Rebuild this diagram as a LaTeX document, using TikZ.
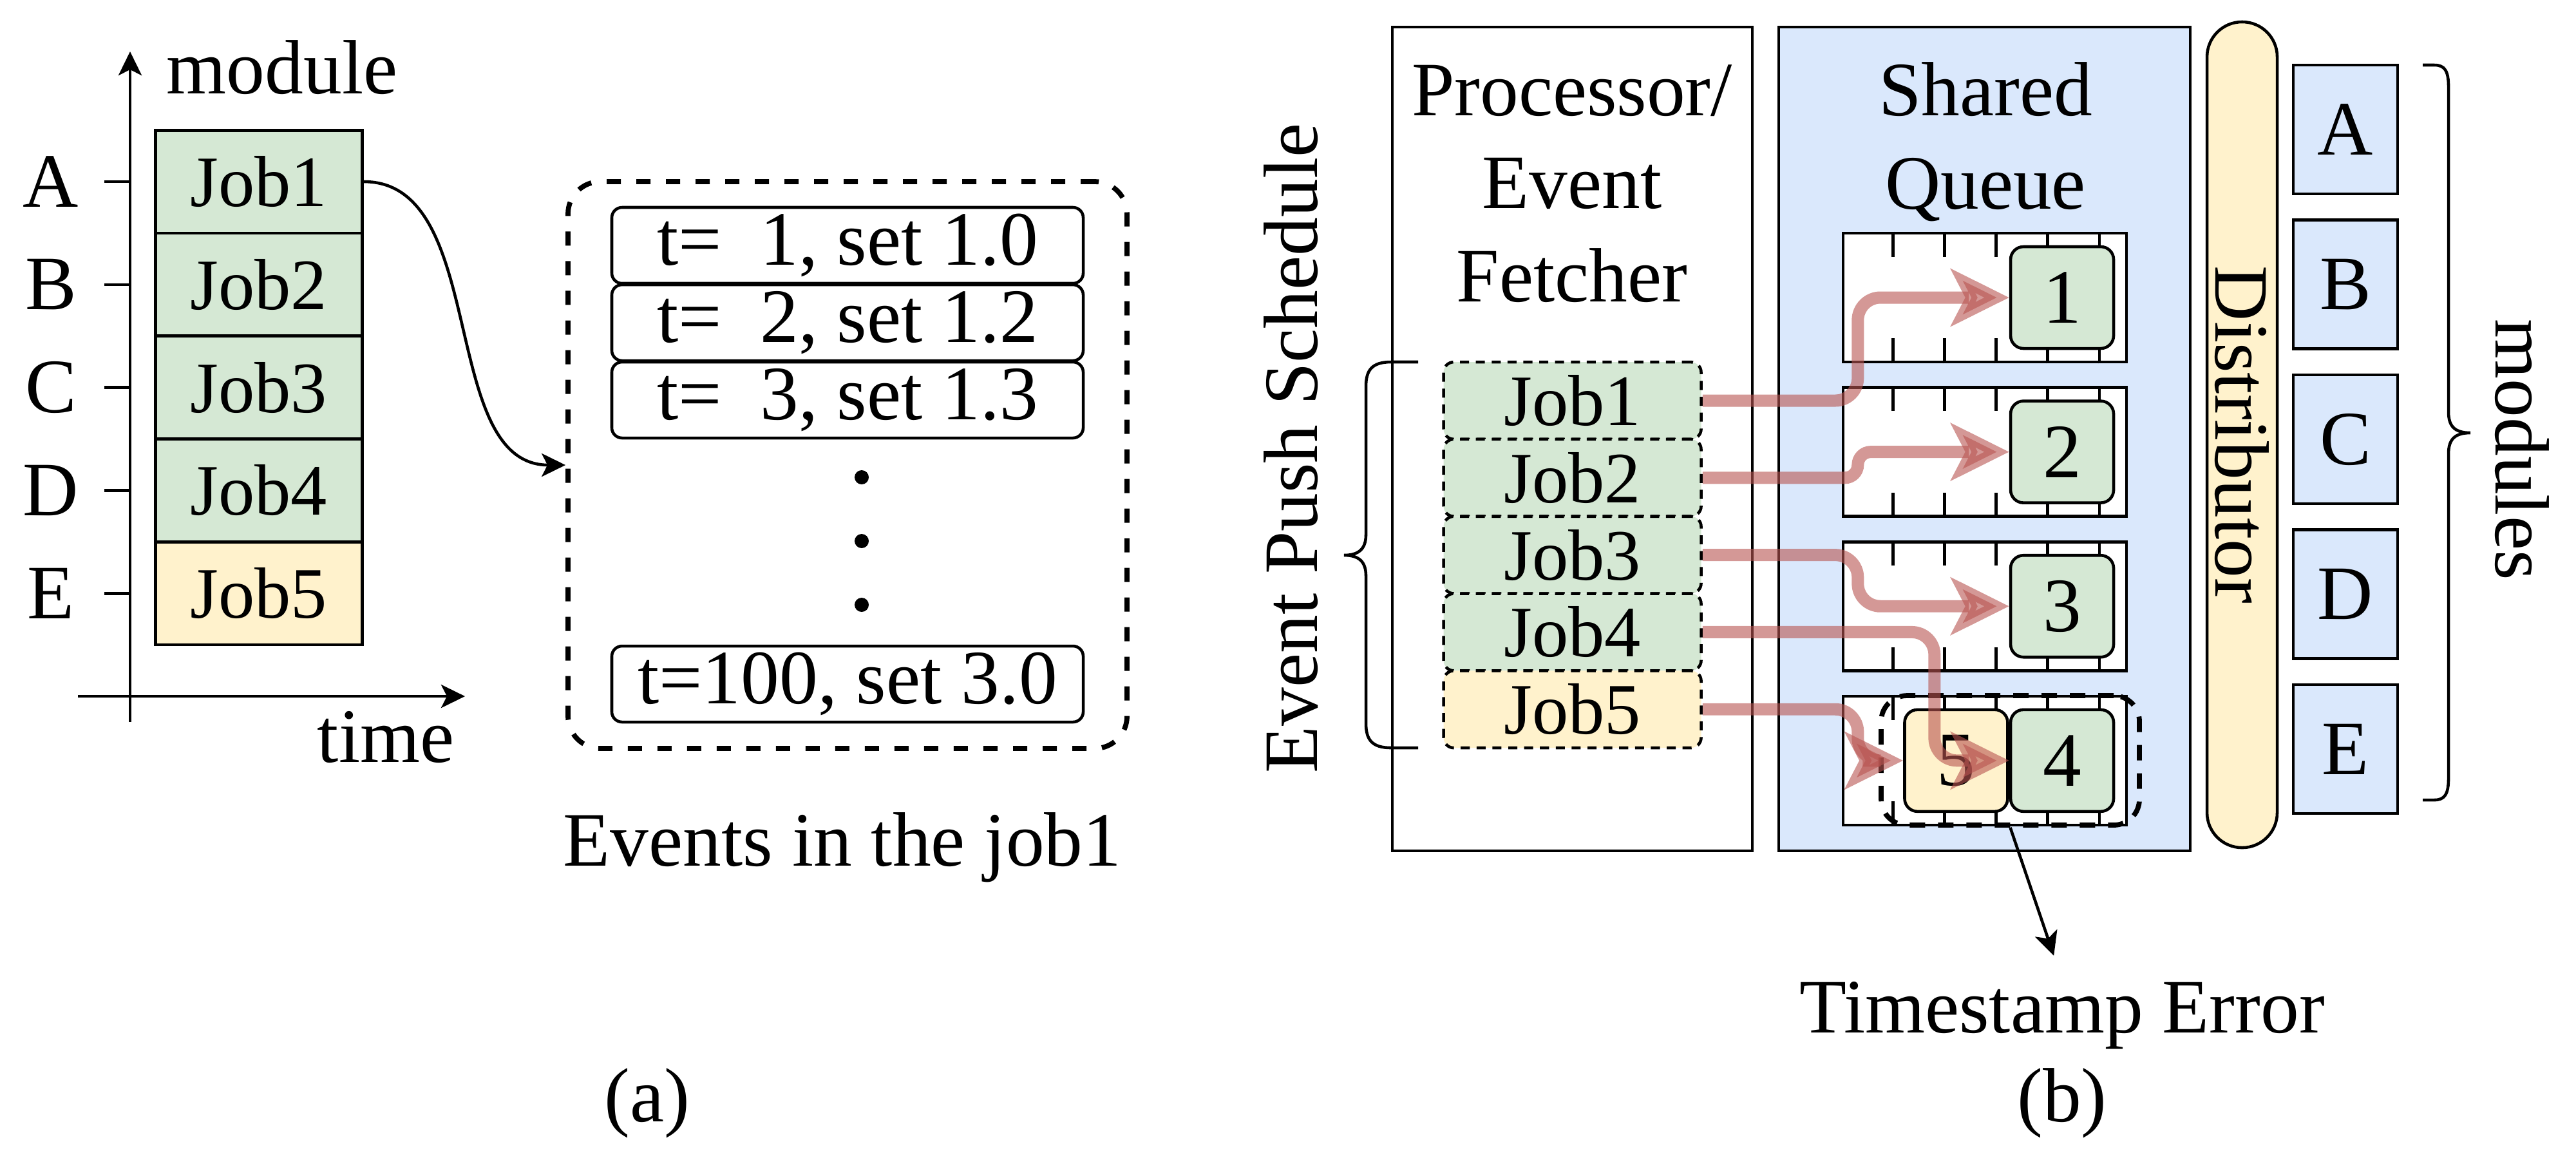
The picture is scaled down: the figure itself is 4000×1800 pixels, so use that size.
\documentclass[tikz,border=0pt]{standalone}
\usepackage{fontspec}
\setmainfont{Liberation Serif}
\usetikzlibrary{arrows.meta,positioning}
\definecolor{jobgreen}{HTML}{D5E8D4}
\definecolor{jobyellow}{HTML}{FFF2CC}
\definecolor{qblue}{HTML}{DAE8FC}
\definecolor{pushred}{HTML}{B85450}

\begin{document}
\begin{tikzpicture}[x=0.05mm, y=-0.05mm, line width=0.65pt,
   every node/.style={inner sep=0pt, font=\fontsize{17}{20.5}\selectfont},
   tip/.style={-{Stealth[length=1.85mm,width=1.8mm,inset=0.45mm]}},
   jobcell/.style={draw, minimum width=1.605cm, minimum height=0.798cm, font=\fontsize{16}{19}\selectfont},
   evbox/.style={draw, rounded corners=0.8mm, minimum width=3.66cm, minimum height=0.59cm},
   evgroup/.style={draw, line width=1.1pt, dash pattern=on 1.1mm off 1.2mm, rounded corners=2.5mm,
                   minimum width=4.34cm, minimum height=4.4cm},
   pjob/.style={draw, dash pattern=on 2pt off 1.5pt, rounded corners=0.8mm, minimum width=2cm,
                minimum height=0.599cm, font=\fontsize{16}{19}\selectfont},
   qrow/.style={draw, fill=white, minimum width=2.2cm, minimum height=1cm},
   slot/.style={draw, rounded corners=1mm, minimum width=0.8cm, minimum height=0.79cm},
   errbox/.style={draw, line width=1.1pt, dash pattern=on 1.2mm off 1mm, rounded corners=2mm,
                  minimum width=2.005cm, minimum height=1.005cm},
   modbox/.style={draw, fill=qblue, minimum width=0.81cm, minimum height=1cm},
   push/.style={draw=pushred, opacity=0.6, line width=2.7pt,
                -{Stealth[length=4.5mm,width=4.4mm,inset=1.1mm]}}]
   \useasboundingbox (0,0) rectangle (4000,1800);

   % (a) jobs over time
   \draw[tip] (202,1121) -- (202,80);
   \draw[tip] (121,1081) -- (722,1081);
   \node[anchor=base] (ylab) at (438,145) {module};
   \node[anchor=base] (xlab) at (599,1183) {time};
   \foreach \m/\c [count=\i] in {A/jobgreen,B/jobgreen,C/jobgreen,D/jobgreen,E/jobyellow} {
      \pgfmathsetmacro\yy{282+159.8*(\i-1)}
      \node[jobcell, fill=\c] (job\i) at (402,\yy) {Job\i};
      \draw (162,\yy) -- (202,\yy);
      \node (lab\m) at (79,\yy) {\m};
   }
   \node[evgroup] (events) at (1316,722) {};
   \node[evbox] (ev1) at (1316,381) {t=\ \ 1, set 1.0};
   \node[evbox] (ev2) at (1316,501) {t=\ \ 2, set 1.2};
   \node[evbox] (ev3) at (1316,621) {t=\ \ 3, set 1.3};
   \node[evbox] (ev4) at (1316,1062) {t=100, set 3.0};
   \foreach \d in {741,840,939}
      \fill (1338,\d) circle[radius=11];
   \draw[tip] (job1.east) .. controls (760,282) and (680,722) .. (events.west);
   \node[anchor=base] (evcap) at (1308,1344) {Events in the job1};
   \node[anchor=base] (capa) at (1005,1741) {(a)};

   % (b) shared queue
   \node[draw, minimum width=2.795cm, minimum height=6.395cm] (proc) at (2441.5,681.5) {};
   \node[draw, fill=qblue, minimum width=3.195cm, minimum height=6.395cm] (queue) at (3081.5,681.5) {};
   \node[anchor=base, align=center] (proctitle) at (2441,468) {Processor/\\Event\\Fetcher};
   \node[anchor=base, align=center] (qtitle) at (3083,324) {Shared\\Queue};
   \foreach \c [count=\i] in {jobgreen,jobgreen,jobgreen,jobgreen,jobyellow} {
      \pgfmathsetmacro\yy{622+119.8*(\i-1)}
      \node[pjob, fill=\c] (pj\i) at (2441.5,\yy) {Job\i};
   }
   \draw (2202,562) -- (2160,562) .. controls (2130,562) and (2121,575) .. (2121,600)
      -- (2121,830) .. controls (2121,852) and (2110,862) .. (2087,862)
      .. controls (2110,862) and (2121,872) .. (2121,894)
      -- (2121,1123) .. controls (2121,1148) and (2130,1161) .. (2160,1161) -- (2202,1161);
   \node[rotate=90, anchor=base] (pushlab) at (2045,696) {Event Push Schedule};

   \foreach \r in {1,...,4} {
      \pgfmathsetmacro\yy{462+239.6*(\r-1)}
      \node[qrow] (row\r) at (3082,\yy) {};
      \foreach \t in {1,...,5} {
         \draw ([xshift=\t*0.4cm]row\r.north west) -- ++(0,39);
         \draw ([xshift=\t*0.4cm]row\r.south west) -- ++(0,-39);
      }
      \node[slot, fill=jobgreen] (s\r) at ([xshift=0.6cm]row\r.center) {\r};
   }
   \node[slot, fill=jobyellow, left=0pt of s4] (s5) {5};
   \node[errbox] (errbox) at (3121.5,1180.5) {};

   \draw[push, rounded corners=1.75mm] (pj1.east) -- ++(241,0) |- (s1.west);
   \draw[push, rounded corners=1mm] (pj2.east) -- ++(241,0) |- (s2.west);
   \draw[push, rounded corners=1.75mm] (pj3.east) -- ++(241,0) |- (s3.west);
   \draw[push, rounded corners=1.75mm] (pj4.east) -- ++(360,0) |- (s4.west);
   \draw[push, rounded corners=1.75mm] (pj5.east) -- ++(241,0) |- (s5.west);

   \node[anchor=base] (errlab) at (3202,1603) {Timestamp Error};
   \draw[tip, shorten >=2mm] (errbox.south) -- (errlab.north);
   \node[anchor=base] (capb) at (3202,1741) {(b)};

   \node[draw, fill=jobyellow, rounded corners=2.72mm, rotate=-90, minimum width=6.41cm,
         minimum height=0.545cm] (dist) at (3481.5,675) {Distributor};
   \foreach \m [count=\i] in {A,B,C,D,E} {
      \pgfmathsetmacro\yy{201+240.5*(\i-1)}
      \node[modbox] (mod\m) at (3642,\yy) {\m};
   }
   \draw (3762,101) -- (3780,101) .. controls (3796,101) and (3802,110) .. (3802,135)
      -- (3802,640) .. controls (3802,662) and (3812,672) .. (3836,672)
      .. controls (3812,672) and (3802,682) .. (3802,704)
      -- (3802,1208) .. controls (3802,1233) and (3796,1242) .. (3780,1242) -- (3762,1242);
   \node[rotate=-90, anchor=base] (modlab) at (3875,698) {modules};
\end{tikzpicture}
\end{document}
